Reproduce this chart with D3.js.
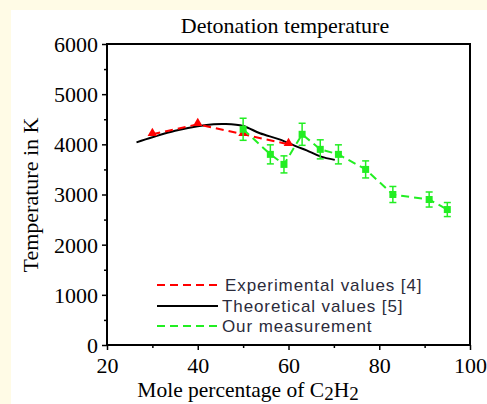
<!DOCTYPE html>
<html><head><meta charset="utf-8">
<script src="https://cdn.jsdelivr.net/npm/d3@7"></script>
<style>body{margin:0;background:#fffbe6;} svg{display:block;}</style>
</head><body>
<svg id="c" width="487" height="404"></svg>
<script>
const xTicks = [20, 40, 60, 80, 100];
const yTicks = [0, 1000, 2000, 3000, 4000, 5000, 6000];
const expX = [30, 40, 50, 60];
const expT = [4200, 4400, 4200, 4000];
const theoX = [26.5, 30, 35, 40, 43.5, 46, 50, 53.7, 58, 62, 64, 67, 70.2];
const theoT = [4040, 4140, 4270, 4360, 4400, 4405, 4365, 4220, 4100, 3950, 3880, 3760, 3690];
const ourX = [50, 56, 59, 63, 67, 71, 77, 83, 91, 95];
const ourT = [4300, 3800, 3600, 4200, 3900, 3800, 3500, 3000, 2900, 2700];
const ourErr = [220, 190, 170, 220, 190, 190, 170, 160, 150, 140];
const legendLabels = ["Experimental values [4]", "Theoretical values [5]", "Our measurement"];

const svg = d3.select("#c");
svg.append("rect").attr("x", 11).attr("y", 10).attr("width", 476).attr("height", 394).attr("fill", "#fff");

const L = 107, R = 470, T = 44, B = 345;
const x = d3.scaleLinear().domain([20, 100]).range([L, R]);
const y = d3.scaleLinear().domain([0, 6000]).range([B, T]);
const serif = "'Liberation Serif', 'Times New Roman', serif";
const sans = "'Liberation Sans', Arial, sans-serif";

// frame
svg.append("rect").attr("x", L).attr("y", T).attr("width", R - L).attr("height", B - T)
  .attr("fill", "none").attr("stroke", "#000").attr("stroke-width", 2);

// x axis
const xa = svg.append("g").attr("transform", `translate(0,${B})`)
  .call(d3.axisBottom(x).tickValues(xTicks).tickSize(5).tickFormat(d3.format("d")));
const xm = svg.append("g").attr("transform", `translate(0,${B})`)
  .call(d3.axisBottom(x).tickValues([30, 50, 70, 90]).tickSize(3).tickFormat(""));
// y axis
const ya = svg.append("g").attr("transform", `translate(${L},0)`)
  .call(d3.axisLeft(y).tickValues(yTicks).tickSize(5).tickFormat(d3.format("d")));
const ym = svg.append("g").attr("transform", `translate(${L},0)`)
  .call(d3.axisLeft(y).tickValues([500, 1500, 2500, 3500, 4500, 5500]).tickSize(3).tickFormat(""));
[xa, xm, ya, ym].forEach(g => {
  g.select(".domain").remove();
  g.selectAll("line").attr("stroke", "#000").attr("stroke-width", 1.5);
  g.attr("font-family", serif).attr("font-size", 22);
  g.selectAll("text").attr("font-family", serif).attr("font-size", 22).attr("fill", "#000");
});
xa.selectAll("text").attr("dy", "0").attr("y", 28);
ya.selectAll("text").attr("x", -9).attr("dy", "0.34em");

// title and labels
svg.append("text").attr("x", 285).attr("y", 33).attr("text-anchor", "middle")
  .attr("font-family", serif).attr("font-size", 22).text("Detonation temperature");
svg.append("text").attr("transform", `translate(38,195) rotate(-90)`).attr("text-anchor", "middle")
  .attr("font-family", serif).attr("font-size", 22).text("Temperature in K");
const xl = svg.append("text").attr("x", 248).attr("y", 397).attr("text-anchor", "middle")
  .attr("font-family", serif).attr("font-size", 21.5);
xl.append("tspan").text("Mole percentage of C");
xl.append("tspan").attr("dy", 3).attr("font-size", 19).text("2");
xl.append("tspan").attr("dy", -3).text("H");
xl.append("tspan").attr("dy", 3).attr("font-size", 19).text("2");

const line = d3.line().x(d => x(d[0])).y(d => y(d[1]));
const green = "#22ee22";

// theoretical
const theo = theoX.map((v, i) => [v, theoT[i]]);
svg.append("path").attr("d", d3.line().x(d => x(d[0])).y(d => y(d[1])).curve(d3.curveCatmullRom)(theo))
  .attr("fill", "none").attr("stroke", "#000").attr("stroke-width", 2);

// experimental
const exp = expX.map((v, i) => [v, expT[i]]);
svg.append("path").attr("d", line(exp)).attr("fill", "none").attr("stroke", "#ff0000")
  .attr("stroke-width", 2).attr("stroke-dasharray", "8,5");
svg.selectAll(".tri").data(exp).enter().append("path")
  .attr("d", d3.symbol().type(d3.symbolTriangle).size(40))
  .attr("transform", d => `translate(${x(d[0])},${y(d[1]) - 1})`).attr("fill", "#ff0000");

// our measurement
const our = ourX.map((v, i) => [v, ourT[i], ourErr[i]]);
svg.append("path").attr("d", line(our)).attr("fill", "none").attr("stroke", green)
  .attr("stroke-width", 2).attr("stroke-dasharray", "8,5");
const eb = svg.selectAll(".eb").data(our).enter().append("g").attr("stroke", green).attr("stroke-width", 1.5);
eb.append("line").attr("x1", d => x(d[0])).attr("x2", d => x(d[0])).attr("y1", d => y(d[1] - d[2])).attr("y2", d => y(d[1] + d[2]));
eb.append("line").attr("x1", d => x(d[0]) - 3.5).attr("x2", d => x(d[0]) + 3.5).attr("y1", d => y(d[1] - d[2])).attr("y2", d => y(d[1] - d[2]));
eb.append("line").attr("x1", d => x(d[0]) - 3.5).attr("x2", d => x(d[0]) + 3.5).attr("y1", d => y(d[1] + d[2])).attr("y2", d => y(d[1] + d[2]));
svg.selectAll(".sq").data(our).enter().append("rect")
  .attr("x", d => x(d[0]) - 3.5).attr("y", d => y(d[1]) - 3.5).attr("width", 7).attr("height", 7).attr("fill", green);

// legend
const lg = [
  {c: "#ff0000", dash: "8,5", y: 285, tx: 225},
  {c: "#000", dash: null, y: 306, tx: 222},
  {c: green, dash: "8,5", y: 326, tx: 222}
];
lg.forEach((d, i) => {
  svg.append("line").attr("x1", 157).attr("x2", 218).attr("y1", d.y).attr("y2", d.y)
    .attr("stroke", d.c).attr("stroke-width", 2).attr("stroke-dasharray", d.dash);
  svg.append("text").attr("x", d.tx).attr("y", d.y + 6).attr("font-family", sans).attr("font-size", 17)
    .attr("letter-spacing", 0.9).attr("fill", "#2b2b3b").text(legendLabels[i]);
});
</script>
</body></html>
